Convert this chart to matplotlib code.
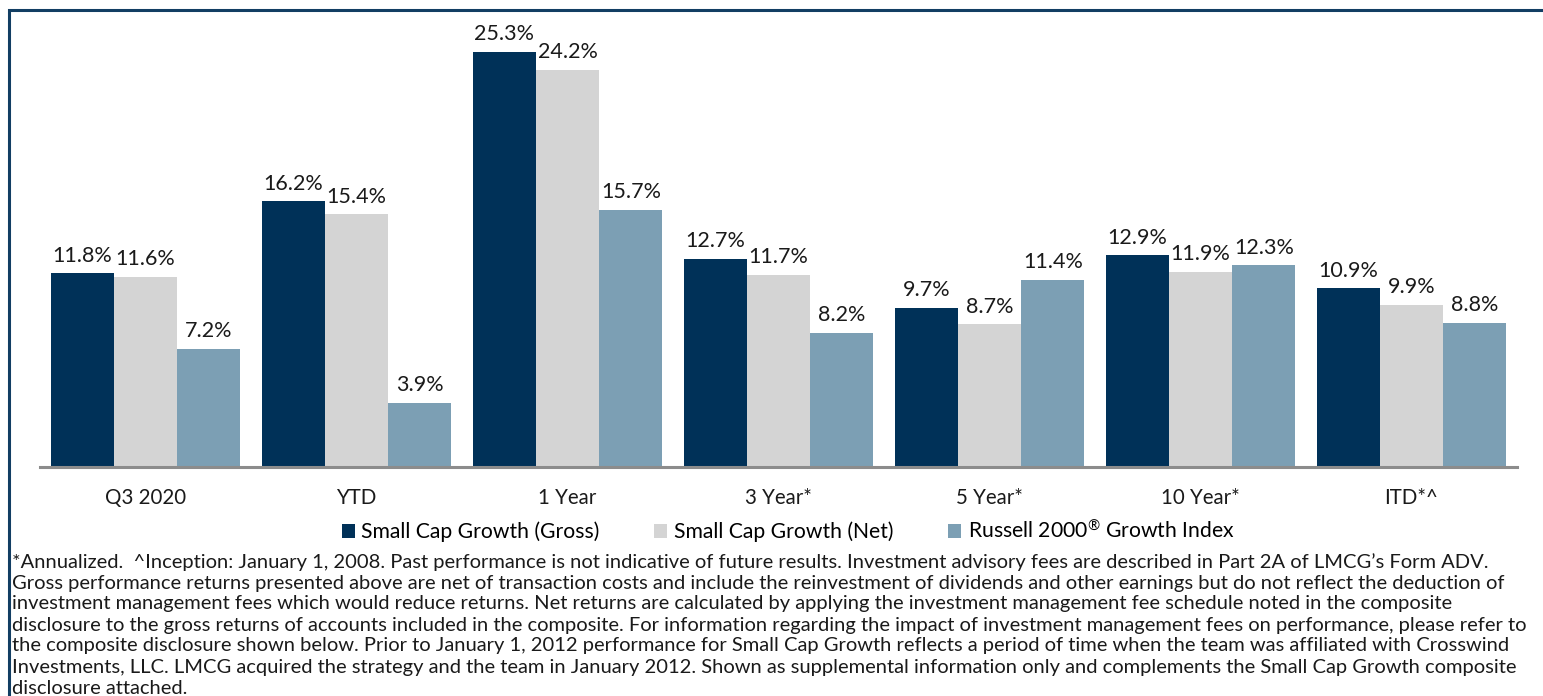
import matplotlib
matplotlib.use("Agg")
import matplotlib.pyplot as plt
import numpy as np
from matplotlib.patches import Patch
from matplotlib.lines import Line2D

categories = ["Q3 2020", "YTD", "1 Year", "3 Year*", "5 Year*", "10 Year*", "ITD*^"]
gross = [11.8, 16.2, 25.3, 12.7, 9.7, 12.9, 10.9]
net = [11.6, 15.4, 24.2, 11.7, 8.7, 11.9, 9.9]
russell = [7.2, 3.9, 15.7, 8.2, 11.4, 12.3, 8.8]
series_names = ["Small Cap Growth (Gross)", "Small Cap Growth (Net)", "Russell 2000$^{\u00ae}$ Growth Index"]
colors = ["#003158", "#D4D4D4", "#7C9FB4"]

footnote_lines = [
    "*Annualized.  ^Inception: January 1, 2008. Past performance is not indicative of future results. Investment advisory fees are described in Part 2A of LMCG\u2019s Form ADV.",
    "Gross performance returns presented above are net of transaction costs and include the reinvestment of dividends and other earnings but do not reflect the deduction of",
    "investment management fees which would reduce returns. Net returns are calculated by applying the investment management fee schedule noted in the composite",
    "disclosure to the gross returns of accounts included in the composite. For information regarding the impact of investment management fees on performance, please refer to",
    "the composite disclosure shown below. Prior to January 1, 2012 performance for Small Cap Growth reflects a period of time when the team was affiliated with Crosswind",
    "Investments, LLC. LMCG acquired the strategy and the team in January 2012. Shown as supplemental information only and complements the Small Cap Growth composite",
    "disclosure attached.",
]

W, H = 1543, 696
fig = plt.figure(figsize=(W / 100, H / 100), dpi=100)
plt.rcParams['font.family'] = ['Lato', 'DejaVu Sans']
plt.rcParams['mathtext.fontset'] = 'custom'
plt.rcParams['mathtext.rm'] = 'Lato'
plt.rcParams['mathtext.it'] = 'Lato'

# axes placement in pixels
ax_x0, ax_x1 = 40, 1517
ax_top, ax_base = 20, 467
ax = fig.add_axes([ax_x0 / W, 1 - ax_base / H, (ax_x1 - ax_x0) / W, (ax_base - ax_top) / H])

x = np.arange(len(categories))
bw = 0.3
for i, (vals, c) in enumerate(zip([gross, net, russell], colors)):
    pos = x + (i - 1) * bw
    bars = ax.bar(pos, vals, width=bw, color=c, edgecolor='none', zorder=2)
    for b, v in zip(bars, vals):
        ax.annotate(f"{v:.1f}%", (b.get_x() + b.get_width() / 2, v), xytext=(0, 5.5),
                    textcoords="offset points", ha='center', va='bottom', fontsize=15.5,
                    color='#1a1a1a')

ax.set_xlim(-0.5, len(categories) - 0.5)
ax.set_ylim(0, (ax_base - ax_top) / 16.4)
for s in ['top', 'right', 'left']:
    ax.spines[s].set_visible(False)
ax.spines['bottom'].set_color('#8C8C8C')
ax.spines['bottom'].set_linewidth(2.2)
ax.set_yticks([])
ax.set_xticks(x)
ax.set_xticklabels(categories, fontsize=14.8, color='#1a1a1a')
ax.tick_params(axis='x', length=0, pad=15)

handles = [Patch(facecolor=c, edgecolor='none') for c in colors]
fig.legend(handles, series_names, loc='center', bbox_to_anchor=(788 / W, 1 - 531 / H),
           ncol=3, frameon=False, fontsize=15.2, handlelength=0.62, handleheight=0.62,
           handletextpad=0.3, columnspacing=2.6, borderpad=0)

# footnote
renderer = fig.canvas.get_renderer()
probe = fig.text(0, 0, footnote_lines[3], fontsize=10)
wpx = probe.get_window_extent(renderer).width
probe.remove()
fs = 10 * 1520 / wpx
y0 = 562
dy = 21
for k, line in enumerate(footnote_lines):
    fig.text(12 / W, 1 - (y0 + k * dy) / H, line, fontsize=fs, ha='left', va='center',
             color='#1a1a1a')

# border
fig.add_artist(Line2D([9 / W, 9 / W, 1.0], [0, 1 - 9.5 / H, 1 - 9.5 / H],
                      transform=fig.transFigure, color='#123E63', linewidth=2.2,
                      solid_joinstyle='miter'))

fig.savefig("out.png", dpi=100)
